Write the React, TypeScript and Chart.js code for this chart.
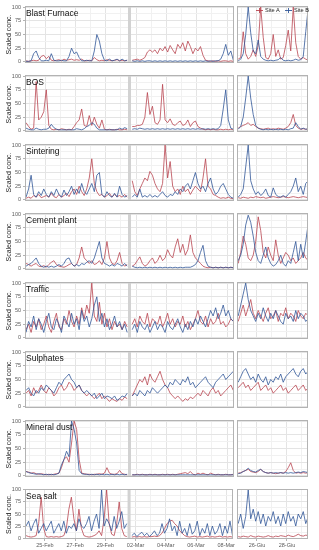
import React, { useEffect, useRef } from 'react';
import { Chart, registerables } from 'chart.js';

Chart.register(...registerables);

const FONT = '"Liberation Sans", Arial, Helvetica, sans-serif';
Chart.defaults.font.family = FONT;

// ---------- axes / categories ----------
const PANEL_NAMES = ['Blast Furnace', 'BOS', 'Sintering', 'Cement plant', 'Traffic', 'Sulphates', 'Mineral dust', 'Sea salt'];
const SERIES_NAMES = ['Site A', 'Site B'];
const LEFT_TICK_DAYS = [0, 2, 4, 6, 8, 10, 12]; // days after 25-Feb
const LEFT_TICK_LABELS = ['25-Feb', '27-Feb', '29-Feb', '02-Mar', '04-Mar', '06-Mar', '08-Mar'];
const RIGHT_TICK_DAYS = [0, 2]; // days after 26-Jun
const RIGHT_TICK_LABELS = ['26-Giu', '28-Giu'];
const Y_TICKS = [0, 25, 50, 75, 100];
const LEFT_RANGE = [-1.32, 12.46];
const RIGHT_RANGE = [-1.33, 3.4];
const LEFT_START_DAY = -1.25; // first sample 24-Feb 18:00
const RIGHT_START_DAY = -1.25; // first sample 24-Jun 18:00
const STEP_DAYS = 4 / 24; // 4-hourly samples
const GAP_DAY = 5.57; // grey marker (01-Mar)

// ---------- data: Blast Furnace ----------
const BF_A_LEFT = [2, 1, 2, 3, 2, 3, 10, 12, 6, 10, 3, 2, 3, 4, 2, 5, 3, 4, 5, 3, 4, 3, 5, 2, 2, 3, 2, 8, 4, 2, 3, 2, 4, 3, 2, 3, 4, 2, 3, 2, 3, null, 3, 4, 5, 3, 5, 8, 18, 22, 18, 22, 15, 25, 20, 28, 18, 30, 22, 15, 32, 25, 35, 20, 38, 28, 15, 25, 20, 28, 12, 3, 2, 1, 2, 1, 2, 1, 2, 2, 1, 2, 1];
const BF_B_LEFT = [1, 1, 2, 15, 20, 8, 2, 2, 3, 2, 15, 3, 2, 2, 3, 2, 2, 10, 25, 15, 18, 8, 2, 2, 3, 2, 2, 20, 50, 38, 15, 3, 2, 5, 2, 3, 5, 2, 5, 2, 3, null, 2, 1, 2, 1, 2, 1, 2, 2, 1, 2, 1, 2, 1, 2, 1, 2, 1, 2, 1, 2, 1, 2, 1, 2, 1, 2, 1, 2, 1, 2, 1, 2, 1, 2, 2, 5, 15, 32, 12, 20, 3];
const BF_A_RIGHT = [5, 8, 55, 15, 5, 10, 22, 10, 30, 100, 45, 8, 5, 15, 50, 10, 22, 5, 8, 30, 58, 20, 100, 35, 10, 5, 8, 5, 3];
const BF_B_RIGHT = [2, 5, 15, 50, 100, 53, 20, 15, 40, 10, 5, 3, 2, 3, 2, 3, 4, 8, 3, 2, 3, 2, 3, 5, 3, 4, 10, 55, 100];

// ---------- data: BOS ----------
const BOS_A_LEFT = [15, 8, 3, 5, 90, 20, 25, 35, 75, 10, 3, 2, 3, 2, 4, 3, 2, 3, 2, 8, 15, 20, 40, 10, 8, 28, 10, 25, 12, 5, 20, 3, 2, 3, 2, 2, 3, 2, 2, 3, 2, null, 8, 8, 10, 10, 12, 25, 70, 30, 45, 15, 12, 20, 85, 20, 15, 22, 12, 10, 15, 18, 10, 12, 20, 8, 15, 18, 8, 5, 3, 2, 3, 2, 3, 2, 2, 3, 2, 3, 2, 3, 2];
const BOS_B_LEFT = [5, 3, 2, 2, 5, 3, 2, 3, 3, 5, 12, 6, 3, 2, 2, 2, 2, 2, 2, 2, 4, 3, 2, 4, 8, 10, 15, 12, 5, 2, 2, 2, 2, 2, 2, 2, 2, 5, 3, 6, 4, null, 3, 4, 3, 5, 4, 3, 4, 3, 4, 3, 4, 3, 4, 3, 4, 3, 4, 3, 4, 3, 4, 3, 4, 3, 4, 3, 4, 3, 4, 3, 4, 3, 4, 3, 4, 10, 40, 75, 20, 5, 3];
const BOS_A_RIGHT = [5, 8, 10, 12, 15, 10, 12, 8, 5, 4, 3, 4, 5, 3, 4, 3, 5, 4, 3, 5, 8, 15, 30, 10, 5, 3, 4, 3, 3];
const BOS_B_RIGHT = [3, 8, 25, 60, 100, 60, 30, 10, 5, 3, 2, 3, 2, 3, 2, 3, 2, 3, 2, 3, 2, 4, 5, 15, 8, 3, 5, 3, 4];

// ---------- data: Sintering ----------
const SIN_A_LEFT = [3, 5, 3, 8, 5, 10, 4, 6, 8, 5, 12, 6, 4, 10, 5, 8, 12, 6, 15, 20, 10, 25, 15, 8, 20, 40, 75, 30, 15, 8, 10, 5, 8, 12, 5, 10, 6, 8, 5, 10, 5, null, 35, 15, 8, 20, 30, 40, 35, 52, 45, 30, 20, 15, 30, 100, 40, 70, 25, 15, 20, 10, 25, 15, 20, 10, 18, 25, 20, 15, 40, 75, 25, 20, 10, 8, 5, 3, 4, 3, 5, 3, 2];
const SIN_B_LEFT = [5, 20, 45, 10, 5, 15, 8, 20, 10, 5, 15, 8, 20, 10, 5, 18, 8, 15, 25, 10, 20, 12, 30, 15, 10, 20, 30, 15, 45, 50, 10, 5, 15, 8, 5, 12, 5, 25, 10, 5, 8, null, 5, 10, 5, 20, 5, 8, 5, 10, 5, 8, 5, 10, 15, 8, 5, 10, 8, 15, 10, 20, 15, 25, 30, 20, 35, 50, 30, 20, 25, 15, 30, 40, 20, 10, 15, 25, 30, 20, 10, 5, 3];
const SIN_A_RIGHT = [4, 3, 5, 4, 3, 5, 4, 6, 5, 4, 5, 3, 4, 5, 6, 5, 4, 5, 6, 5, 4, 5, 6, 5, 4, 5, 6, 5, 4];
const SIN_B_RIGHT = [5, 10, 20, 60, 100, 35, 20, 10, 15, 8, 12, 20, 8, 5, 22, 10, 6, 5, 8, 5, 10, 15, 25, 40, 15, 25, 10, 30, 35];

// ---------- data: Cement plant ----------
const CEM_A_LEFT = [10, 8, 5, 8, 10, 5, 4, 6, 3, 8, 12, 15, 8, 5, 4, 3, 5, 8, 10, 5, 8, 20, 40, 20, 15, 10, 15, 8, 10, 15, 8, 20, 50, 20, 10, 8, 15, 30, 10, 5, 8, null, 5, 8, 15, 22, 10, 5, 8, 15, 20, 10, 15, 25, 15, 20, 35, 25, 20, 40, 55, 30, 45, 25, 35, 62, 30, 20, 15, 10, 5, 3, 2, 3, 2, 3, 2, 3, 2, 3, 2, 3, 2];
const CEM_B_LEFT = [5, 8, 10, 15, 20, 10, 5, 3, 5, 3, 5, 3, 5, 8, 5, 10, 18, 20, 10, 5, 8, 5, 10, 8, 12, 15, 10, 20, 35, 50, 20, 10, 8, 5, 8, 5, 10, 8, 5, 10, 5, null, 5, 3, 2, 3, 2, 3, 2, 3, 2, 3, 2, 3, 2, 3, 2, 3, 2, 3, 2, 3, 2, 3, 3, 3, 5, 8, 15, 30, 43, 15, 5, 3, 2, 3, 2, 3, 2, 3, 2, 3, 2];
const CEM_A_RIGHT = [10, 30, 60, 45, 20, 15, 25, 50, 95, 70, 30, 20, 40, 25, 15, 53, 25, 10, 20, 30, 25, 15, 20, 10, 15, 20, 30, 20, 15];
const CEM_B_RIGHT = [15, 25, 45, 80, 98, 85, 60, 30, 15, 10, 25, 40, 20, 10, 5, 8, 15, 25, 10, 5, 15, 10, 30, 50, 15, 45, 20, 50, 83];

// ---------- data: Traffic ----------
const TRA_A_LEFT = [15, 25, 10, 30, 20, 35, 15, 25, 40, 20, 10, 30, 45, 20, 15, 35, 25, 50, 30, 20, 40, 25, 55, 35, 60, 45, 100, 40, 30, 65, 25, 45, 20, 35, 15, 30, 20, 25, 15, 30, 20, null, 25, 35, 20, 40, 30, 25, 45, 20, 35, 30, 25, 40, 20, 30, 45, 25, 35, 20, 30, 25, 40, 20, 30, 15, 25, 35, 50, 30, 25, 40, 20, 35, 25, 30, 45, 25, 30, 20, 25, 35, 30];
const TRA_B_LEFT = [10, 30, 20, 40, 15, 35, 25, 10, 30, 45, 20, 15, 35, 25, 10, 40, 30, 20, 45, 25, 35, 15, 50, 30, 40, 20, 35, 60, 75, 30, 45, 20, 35, 15, 25, 40, 20, 30, 15, 25, 10, null, 15, 25, 10, 30, 20, 15, 25, 10, 20, 30, 15, 25, 20, 10, 30, 20, 15, 25, 35, 20, 10, 25, 15, 30, 20, 35, 25, 40, 30, 20, 35, 50, 40, 55, 35, 45, 60, 40, 50, 35, 30];
const TRA_A_RIGHT = [30, 45, 60, 40, 55, 70, 45, 35, 50, 40, 30, 45, 55, 35, 40, 50, 30, 45, 40, 55, 35, 45, 40, 30, 50, 40, 35, 45, 40];
const TRA_B_RIGHT = [40, 60, 80, 100, 70, 50, 40, 30, 45, 35, 55, 40, 30, 45, 35, 50, 40, 30, 25, 45, 35, 40, 30, 50, 35, 45, 40, 30, 35];

// ---------- data: Sulphates ----------
const SUL_A_LEFT = [25, 30, 20, 35, 25, 30, 40, 30, 25, 35, 30, 20, 25, 35, 40, 30, 35, 45, 40, 30, 35, 40, 30, 25, 20, 25, 20, 15, 20, 25, 15, 20, 15, 10, 15, 12, 10, 15, 12, 18, 15, null, 20, 30, 40, 50, 45, 55, 40, 60, 50, 45, 55, 65, 50, 40, 35, 25, 20, 15, 20, 15, 10, 15, 12, 18, 15, 20, 25, 20, 30, 25, 20, 30, 35, 25, 30, 20, 25, 30, 35, 40, 30];
const SUL_B_LEFT = [30, 35, 25, 20, 30, 25, 35, 30, 40, 35, 30, 25, 35, 45, 40, 50, 55, 60, 50, 45, 35, 40, 30, 25, 30, 25, 20, 25, 15, 20, 25, 15, 20, 18, 15, 20, 12, 15, 20, 18, 25, null, 20, 25, 20, 30, 25, 20, 30, 25, 35, 30, 25, 30, 35, 40, 35, 45, 40, 50, 45, 40, 50, 45, 55, 40, 45, 35, 40, 45, 50, 55, 45, 40, 35, 45, 50, 55, 60, 50, 55, 60, 65];
const SUL_A_RIGHT = [35, 40, 45, 35, 40, 30, 35, 40, 45, 30, 35, 40, 30, 35, 25, 30, 35, 40, 30, 35, 25, 30, 35, 40, 30, 35, 40, 30, 35];
const SUL_B_RIGHT = [45, 55, 65, 70, 60, 50, 55, 45, 60, 50, 45, 55, 40, 50, 45, 55, 50, 60, 45, 55, 60, 65, 70, 60, 55, 65, 70, 60, 65];

// ---------- data: Mineral dust ----------
const MIN_A_LEFT = [8, 7, 5, 6, 4, 3, 4, 3, 2, 3, 2, 3, 4, 5, 15, 30, 35, 25, 60, 100, 85, 30, 5, 4, 3, 3, 2, 3, 3, 4, 3, 5, 15, 5, 3, 3, 4, 10, 4, 3, 2, null, 2, 2, 3, 2, 3, 2, 2, 3, 2, 3, 2, 2, 3, 2, 3, 2, 3, 2, 3, 4, 5, 6, 4, 8, 3, 2, 5, 3, 5, 3, 2, 5, 3, 2, 3, 2, 2, 3, 2, 2, 3];
const MIN_B_LEFT = [8, 6, 5, 4, 3, 4, 3, 2, 3, 2, 3, 2, 3, 5, 20, 30, 45, 35, 100, 85, 60, 10, 4, 3, 3, 2, 3, 2, 3, 2, 3, 2, 3, 2, 3, 2, 3, 2, 3, 2, 3, null, 2, 2, 2, 2, 2, 2, 2, 2, 2, 2, 2, 2, 2, 2, 2, 2, 2, 2, 2, 2, 2, 2, 2, 2, 2, 2, 2, 2, 2, 2, 2, 2, 2, 2, 2, 2, 2, 2, 2, 2, 2];
const MIN_A_RIGHT = [5, 6, 8, 10, 12, 8, 7, 6, 8, 12, 8, 6, 5, 6, 5, 4, 5, 6, 5, 8, 15, 24, 10, 5, 6, 5, 6, 5, 6];
const MIN_B_RIGHT = [4, 5, 8, 10, 14, 10, 8, 7, 10, 12, 8, 6, 5, 6, 5, 6, 5, 6, 5, 6, 5, 6, 5, 6, 7, 6, 8, 7, 6];

// ---------- data: Sea salt ----------
const SEA_A_LEFT = [5, 3, 2, 3, 5, 30, 85, 20, 3, 2, 3, 2, 3, 2, 3, 5, 20, 60, 85, 40, 15, 60, 20, 5, 3, 2, 3, 5, 8, 15, 5, 40, 100, 30, 8, 5, 30, 75, 20, 5, 3, null, 2, 3, 2, 3, 2, 3, 2, 3, 3, 4, 3, 5, 10, 20, 30, 35, 37, 30, 25, 15, 10, 5, 3, 2, 3, 4, 2, 3, 2, 3, 4, 2, 3, 2, 3, 4, 2, 3, 2, 3, 2];
const SEA_B_LEFT = [25, 35, 15, 30, 40, 10, 20, 30, 15, 25, 35, 10, 20, 30, 15, 35, 10, 25, 20, 30, 15, 40, 25, 20, 30, 45, 15, 35, 50, 20, 100, 25, 40, 30, 15, 45, 20, 35, 55, 20, 30, null, 5, 10, 3, 8, 12, 5, 10, 3, 8, 15, 5, 10, 30, 10, 20, 40, 15, 25, 5, 35, 10, 20, 5, 30, 8, 15, 35, 5, 20, 10, 30, 5, 25, 8, 15, 30, 5, 25, 10, 35, 5];
const SEA_A_RIGHT = [3, 2, 4, 3, 2, 5, 3, 2, 4, 3, 2, 3, 5, 3, 2, 4, 3, 5, 4, 3, 6, 4, 3, 5, 8, 5, 4, 6, 5];
const SEA_B_RIGHT = [30, 50, 20, 45, 100, 40, 60, 35, 55, 30, 50, 25, 45, 35, 55, 30, 45, 25, 50, 30, 55, 35, 45, 25, 50, 40, 55, 30, 45];

const PANELS = [
  { aL: BF_A_LEFT, bL: BF_B_LEFT, aR: BF_A_RIGHT, bR: BF_B_RIGHT },
  { aL: BOS_A_LEFT, bL: BOS_B_LEFT, aR: BOS_A_RIGHT, bR: BOS_B_RIGHT },
  { aL: SIN_A_LEFT, bL: SIN_B_LEFT, aR: SIN_A_RIGHT, bR: SIN_B_RIGHT },
  { aL: CEM_A_LEFT, bL: CEM_B_LEFT, aR: CEM_A_RIGHT, bR: CEM_B_RIGHT },
  { aL: TRA_A_LEFT, bL: TRA_B_LEFT, aR: TRA_A_RIGHT, bR: TRA_B_RIGHT },
  { aL: SUL_A_LEFT, bL: SUL_B_LEFT, aR: SUL_A_RIGHT, bR: SUL_B_RIGHT },
  { aL: MIN_A_LEFT, bL: MIN_B_LEFT, aR: MIN_A_RIGHT, bR: MIN_B_RIGHT },
  { aL: SEA_A_LEFT, bL: SEA_B_LEFT, aR: SEA_A_RIGHT, bR: SEA_B_RIGHT },
];

// ---------- style ----------
const RED = 'rgba(184,67,79,0.88)';
const BLUE = 'rgba(47,85,151,0.88)';
const LINE_W = 0.9;
const GRID_MAJOR = '#e4e4e4';
const GRID_MINOR = '#f1f1f1';
const FRAME = '#b3b3b3';
const BAND = '#d2d2d2';
const TICK_COLOR = '#5a5a5a';
const ROW_H = 69;
const LEFT_W = 236;
const RIGHT_W = 83;

const panelFrame = {
  id: 'panelFrame',
  beforeDatasetsDraw(chart: any, _args: any, opts: any) {
    if (opts && typeof opts.band === 'number') {
      const { ctx, chartArea, scales } = chart;
      const px = scales.x.getPixelForValue(opts.band);
      ctx.save();
      ctx.fillStyle = BAND;
      ctx.fillRect(px - 1.5, chartArea.top, 3, chartArea.bottom - chartArea.top);
      ctx.restore();
    }
  },
  afterDatasetsDraw(chart: any) {
    const { ctx, chartArea } = chart;
    const l = Math.round(chartArea.left), t = Math.round(chartArea.top);
    const r = Math.round(chartArea.right), b = Math.round(chartArea.bottom);
    ctx.save();
    ctx.strokeStyle = FRAME;
    ctx.lineWidth = 1;
    ctx.strokeRect(l + 0.5, t + 0.5, r - l - 1, b - t - 1);
    ctx.restore();
  },
};

function PanelChart({ row, side }: { row: number; side: 'L' | 'R' }) {
  const ref = useRef<HTMLCanvasElement>(null);
  const isLeft = side === 'L';
  const isBottom = row === PANELS.length - 1;
  const h = isBottom ? 550 - ROW_H * row : ROW_H;
  const w = isLeft ? LEFT_W : RIGHT_W;

  useEffect(() => {
    const p = PANELS[row];
    const start = isLeft ? LEFT_START_DAY : RIGHT_START_DAY;
    const toPts = (vals: (number | null)[]) => vals.map((v, i) => ({ x: start + i * STEP_DAYS, y: v }));
    const tickDays = isLeft ? LEFT_TICK_DAYS : RIGHT_TICK_DAYS;
    const tickLabels = isLeft ? LEFT_TICK_LABELS : RIGHT_TICK_LABELS;
    const range = isLeft ? LEFT_RANGE : RIGHT_RANGE;
    const isMajorX = (v: number) => tickDays.includes(v) || (Math.abs(v) % 2 === 0);
    const chart = new Chart(ref.current as HTMLCanvasElement, {
      type: 'line',
      data: {
        datasets: [
          { label: SERIES_NAMES[1], data: toPts(isLeft ? p.bL : p.bR) as any, borderColor: BLUE, borderWidth: LINE_W, pointRadius: 0, order: 1, spanGaps: false, fill: false, tension: 0 },
          { label: SERIES_NAMES[0], data: toPts(isLeft ? p.aL : p.aR) as any, borderColor: RED, borderWidth: LINE_W, pointRadius: 0, order: 2, spanGaps: false, fill: false, tension: 0 },
        ],
      },
      options: {
        responsive: false,
        animation: false,
        events: [],
        layout: { padding: { left: isLeft ? 0 : 1, right: isLeft ? 2 : 11, top: 6, bottom: isBottom ? 0 : 6 } },
        plugins: {
          legend: { display: false },
          tooltip: { enabled: false },
          panelFrame: { band: isLeft ? GAP_DAY : null },
        } as any,
        scales: {
          x: {
            type: 'linear',
            min: range[0],
            max: range[1],
            ticks: {
              stepSize: 1,
              includeBounds: false,
              autoSkip: false,
              maxRotation: 0,
              minRotation: 0,
              display: isBottom,
              padding: 1,
              color: TICK_COLOR,
              font: { size: 5.5, family: FONT },
              callback: (v: any) => {
                const k = tickDays.indexOf(Number(v));
                return k >= 0 ? tickLabels[k] : '';
              },
            },
            grid: {
              color: (c: any) => (c.tick && isMajorX(c.tick.value) ? GRID_MAJOR : GRID_MINOR),
              lineWidth: 1,
              drawTicks: isBottom,
              tickLength: 2,
              tickColor: (c: any) => (c.tick && tickDays.includes(c.tick.value) ? FRAME : 'rgba(0,0,0,0)'),
            },
            border: { display: false },
            afterFit: (s: any) => { s.height = isBottom ? 11 : 0; },
          } as any,
          y: {
            min: -2,
            max: 102,
            ticks: {
              stepSize: 12.5,
              includeBounds: false,
              autoSkip: false,
              display: isLeft,
              padding: 2,
              color: TICK_COLOR,
              font: { size: 5.5, family: FONT },
              callback: (v: any) => (Y_TICKS.includes(Number(v)) ? String(v) : ''),
            },
            grid: {
              color: (c: any) => (c.tick && Y_TICKS.includes(c.tick.value) ? GRID_MAJOR : GRID_MINOR),
              lineWidth: 1,
              drawTicks: isLeft,
              tickLength: 2,
              tickColor: (c: any) => (c.tick && Y_TICKS.includes(c.tick.value) ? FRAME : 'rgba(0,0,0,0)'),
            },
            border: { display: false },
            title: {
              display: isLeft,
              text: 'Scaled conc.',
              color: '#222',
              font: { size: 7, family: FONT },
              padding: { top: 5, bottom: 0 },
            },
            afterFit: (s: any) => { s.width = isLeft ? 25 : 0; },
          } as any,
        },
      },
      plugins: [panelFrame as any],
    });
    return () => chart.destroy();
  }, [row, side]);

  return (
    <canvas
      ref={ref}
      width={w}
      height={h}
      style={{ position: 'absolute', left: isLeft ? 0 : LEFT_W, top: ROW_H * row, width: w, height: h }}
    />
  );
}

export default function App() {
  useEffect(() => {
    document.body.style.margin = '0';
  }, []);
  return (
    <div style={{ position: 'absolute', left: 0, top: 0, width: 319, height: 550, background: '#fff', fontFamily: FONT, overflow: 'hidden' }}>
      {PANELS.map((_, r) => (
        <React.Fragment key={r}>
          <PanelChart row={r} side="L" />
          <PanelChart row={r} side="R" />
          <div style={{ position: 'absolute', left: 26, top: ROW_H * r + 9, fontSize: 8.5, lineHeight: 1, color: '#111', whiteSpace: 'nowrap', pointerEvents: 'none' }}>
            {PANEL_NAMES[r]}
          </div>
        </React.Fragment>
      ))}
      {/* legend */}
      <div style={{ position: 'absolute', left: 256, top: 10, width: 7, height: 1, background: RED }} />
      <div style={{ position: 'absolute', left: 259, top: 8, width: 1, height: 5, background: RED }} />
      <div style={{ position: 'absolute', left: 265, top: 7.6, fontSize: 5.6, lineHeight: 1, color: '#222', whiteSpace: 'nowrap' }}>{SERIES_NAMES[0]}</div>
      <div style={{ position: 'absolute', left: 285, top: 10, width: 7, height: 1, background: BLUE }} />
      <div style={{ position: 'absolute', left: 288, top: 8, width: 1, height: 5, background: BLUE }} />
      <div style={{ position: 'absolute', left: 294, top: 7.6, fontSize: 5.6, lineHeight: 1, color: '#222', whiteSpace: 'nowrap' }}>{SERIES_NAMES[1]}</div>
    </div>
  );
}
